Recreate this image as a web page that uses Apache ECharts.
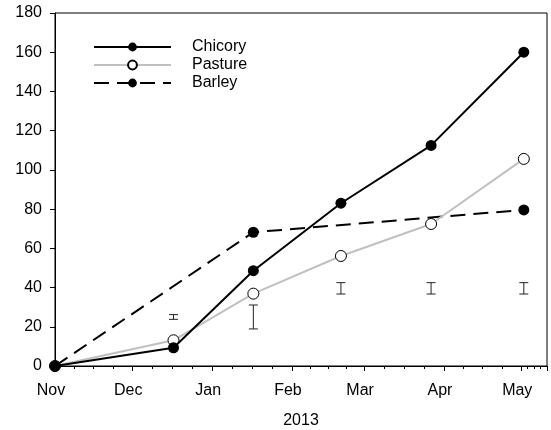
<!DOCTYPE html>
<html><head><meta charset="utf-8">
<script src="https://cdn.jsdelivr.net/npm/echarts@6/dist/echarts.min.js"></script>
<style>html,body{margin:0;padding:0;background:#fff}#c{width:551px;height:430px}</style>
</head><body><div id="c"></div>
<script>
// ---- data ----
const dates = ['2012-11-01', '2012-12-17', '2013-01-17', '2013-02-20', '2013-03-27', '2013-05-02'];
const chicory = [0, 9.3, 48.6, 83, 112.5, 160];
const pasture = [0, 13.1, 36.9, 56.1, 72.4, 105.6];
const barleyDates = ['2012-11-01', '2013-01-17', '2013-05-02'];
const barley = [0, 68.2, 79.6];
const errDates = ['2012-12-17', '2013-01-17', '2013-02-20', '2013-03-27', '2013-05-02'];
const errLow = [23.8, 18.9, 36.7, 36.7, 36.7];
const errHigh = [26.2, 31.1, 42.5, 42.5, 42.5];
const xMin = '2012-11-01';
const xMax = '2013-05-11';
const yTicks = [0, 20, 40, 60, 80, 100, 120, 140, 160, 180];
const xTitle = '2013';

const FONT = 'Liberation Sans, Arial, sans-serif';
const FS = 16;
const pair = (xs, ys) => xs.map((d, i) => [d, ys[i]]);

const chart = echarts.init(document.getElementById('c'));
chart.setOption({
  animation: false,
  backgroundColor: '#fff',
  textStyle: { fontFamily: FONT },
  grid: { left: 55, right: 4, top: 13, bottom: 64, show: true, borderColor: '#000', borderWidth: 1, containLabel: false, outerBoundsMode: 'none' },
  legend: {
    orient: 'vertical', left: 88, top: 33, itemWidth: 77, itemHeight: 11, itemGap: 0,
    data: ['Chicory', 'Pasture', 'Barley'],
    textStyle: { fontFamily: FONT, fontSize: FS, color: '#000', lineHeight: 18, padding: [0, 0, 0, 16] }
  },
  xAxis: {
    type: 'time', min: xMin, max: xMax,
    minInterval: 28 * 86400000, maxInterval: 31 * 86400000,
    name: xTitle, nameLocation: 'middle', nameGap: 47,
    nameTextStyle: { fontFamily: FONT, fontSize: FS, color: '#000' },
    axisLine: { lineStyle: { color: '#000', width: 1 } },
    axisTick: { show: true, length: 5, inside: false, lineStyle: { color: '#000' } },
    minorTick: { show: true, splitNumber: 4, length: 3, lineStyle: { color: '#000' } },
    splitLine: { show: false },
    axisLabel: { formatter: '{MMM}', fontFamily: FONT, fontSize: FS, color: '#000', margin: 17, padding: [0, 8, 0, 0], showMinLabel: true, showMaxLabel: false }
  },
  yAxis: {
    type: 'value', min: yTicks[0], max: yTicks[yTicks.length - 1], interval: 20,
    axisLine: { show: true, lineStyle: { color: '#000', width: 1 } },
    axisTick: { show: true, length: 5, lineStyle: { color: '#000' } },
    splitLine: { show: false },
    axisLabel: { fontFamily: FONT, fontSize: FS, color: '#000', margin: 13 }
  },
  series: [
    {
      name: 'Chicory', type: 'line', data: pair(dates, chicory),
      symbol: 'circle', symbolSize: 11,
      lineStyle: { color: '#000', width: 2 },
      itemStyle: { color: '#000' }, z: 4
    },
    {
      name: 'Pasture', type: 'line', data: pair(dates, pasture),
      symbol: 'circle', symbolSize: 11,
      lineStyle: { color: '#c0c0c0', width: 2 },
      itemStyle: { color: '#fff', borderColor: '#000', borderWidth: 1 }, z: 3
    },
    {
      name: 'Barley', type: 'line', data: pair(barleyDates, barley),
      symbol: 'circle', symbolSize: 11,
      lineStyle: { color: '#000', width: 2, type: [15, 8] },
      itemStyle: { color: '#000' }, z: 2
    },
    {
      type: 'custom', name: 'err', silent: true, z: 1,
      data: errDates.map((d, i) => [d, errLow[i], errHigh[i]]),
      renderItem: function (params, api) {
        const lo = api.coord([api.value(0), api.value(1)]);
        const hi = api.coord([api.value(0), api.value(2)]);
        const w = 4.5;
        const st = { stroke: '#222', lineWidth: 1 };
        return {
          type: 'group', children: [
            { type: 'line', shape: { x1: lo[0], y1: lo[1], x2: hi[0], y2: hi[1] }, style: st },
            { type: 'line', shape: { x1: lo[0] - w, y1: lo[1], x2: lo[0] + w, y2: lo[1] }, style: st },
            { type: 'line', shape: { x1: hi[0] - w, y1: hi[1], x2: hi[0] + w, y2: hi[1] }, style: st }
          ]
        };
      }
    }
  ]
});
</script></body></html>
